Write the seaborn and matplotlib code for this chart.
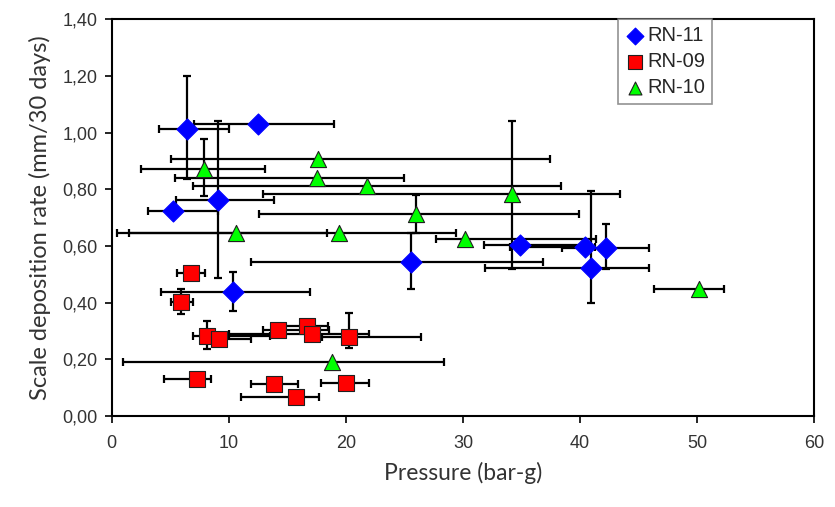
import numpy as np
import pandas as pd
import matplotlib
matplotlib.use("Agg")
import matplotlib.pyplot as plt
from matplotlib.ticker import FuncFormatter
import seaborn as sns

nan = np.nan

# ---- data ----
series_names = ["RN-11", "RN-09", "RN-10"]

rn11_x = [6.4, 12.5, 9.1, 5.2, 10.4, 25.6, 34.9, 40.4, 42.2, 40.9]
rn11_y = [1.013, 1.03, 0.762, 0.724, 0.437, 0.542, 0.602, 0.595, 0.592, 0.521]
rn11_xlo = [4.0, 7.0, 5.5, 3.1, 4.2, 11.9, 31.8, 34.0, 38.5, 31.9]
rn11_xhi = [10.0, 19.0, 13.9, 9.1, 16.9, 36.8, 40.4, 41.3, 45.9, 45.9]
rn11_ylo = [0.835, nan, 0.486, nan, 0.371, 0.447, nan, nan, 0.519, 0.40]
rn11_yhi = [1.20, nan, 1.04, nan, 0.507, 0.645, nan, nan, 0.677, 0.795]

rn09_x = [6.75, 5.9, 8.1, 9.2, 14.2, 16.7, 17.1, 20.3, 7.3, 13.9, 15.7, 20.05]
rn09_y = [0.504, 0.403, 0.283, 0.272, 0.303, 0.319, 0.288, 0.28, 0.13, 0.113, 0.068, 0.118]
rn09_xlo = [5.6, 5.1, 6.95, 8.5, 12.9, 14.0, 10.0, 18.0, 4.5, 11.9, 11.06, 17.9]
rn09_xhi = [7.94, 6.95, 13.5, 11.9, 18.6, 18.5, 22.0, 26.4, 8.45, 15.9, 17.7, 22.0]
rn09_ylo = [nan, 0.36, 0.235, nan, nan, nan, nan, 0.239, nan, nan, nan, nan]
rn09_yhi = [nan, 0.447, 0.335, nan, nan, nan, nan, 0.365, nan, nan, nan, nan]

rn10_x = [7.9, 17.6, 17.5, 21.8, 34.2, 26.0, 10.6, 19.4, 30.15, 50.2, 18.8]
rn10_y = [0.872, 0.906, 0.839, 0.81, 0.784, 0.713, 0.647, 0.645, 0.624, 0.447, 0.19]
rn10_xlo = [2.5, 5.1, 5.4, 6.95, 12.9, 12.6, 1.5, 0.43, 27.7, 46.3, 0.94]
rn10_xhi = [13.1, 37.4, 25.0, 38.4, 43.4, 39.9, 18.4, 29.4, 41.4, 52.3, 28.4]
rn10_ylo = [0.777, nan, nan, nan, 0.52, 0.645, nan, nan, nan, nan, nan]
rn10_yhi = [0.977, nan, nan, nan, 1.041, 0.78, nan, nan, nan, nan, nan]

x_ticks = [0, 10, 20, 30, 40, 50, 60]
y_ticks = [0.0, 0.2, 0.4, 0.6, 0.8, 1.0, 1.2, 1.4]

# ---- build table ----
frames = []
for name, xs, ys, xlo, xhi, ylo, yhi in [
    ("RN-11", rn11_x, rn11_y, rn11_xlo, rn11_xhi, rn11_ylo, rn11_yhi),
    ("RN-09", rn09_x, rn09_y, rn09_xlo, rn09_xhi, rn09_ylo, rn09_yhi),
    ("RN-10", rn10_x, rn10_y, rn10_xlo, rn10_xhi, rn10_ylo, rn10_yhi),
]:
    frames.append(pd.DataFrame({"series": name, "x": xs, "y": ys,
                                "xlo": xlo, "xhi": xhi, "ylo": ylo, "yhi": yhi}))
df = pd.concat(frames, ignore_index=True)

sns.set_theme(style="white")
plt.rcParams["font.family"] = ["Liberation Sans", "DejaVu Sans"]

fig = plt.figure(figsize=(8.35, 5.07), dpi=100)
ax = fig.add_axes([0.1338, 0.1795, 0.8412, 0.7825])

# error bars
for _, r in df.iterrows():
    ax.errorbar(r["x"], r["y"], xerr=[[r["x"] - r["xlo"]], [r["xhi"] - r["x"]]],
                fmt="none", ecolor="black", elinewidth=1.6, capsize=3, capthick=1.6, zorder=2)
    if not np.isnan(r["ylo"]):
        ax.errorbar(r["x"], r["y"], yerr=[[r["y"] - r["ylo"]], [r["yhi"] - r["y"]]],
                    fmt="none", ecolor="black", elinewidth=1.6, capsize=3, capthick=1.6, zorder=2)

palette = {"RN-11": "#0000ff", "RN-09": "#ff0000", "RN-10": "#00ff00"}
markers = {"RN-11": "D", "RN-09": "s", "RN-10": "^"}
sizes_map = {"RN-11": 115, "RN-09": 140, "RN-10": 135}
edge = {"RN-11": "#0000ff", "RN-09": "#202020", "RN-10": "#202020"}

for name in series_names:
    sub = df[df["series"] == name]
    sns.scatterplot(data=sub, x="x", y="y", marker=markers[name], color=palette[name],
                    s=sizes_map[name], edgecolor=edge[name], linewidth=0.8,
                    label=name, zorder=3, ax=ax)

ax.set_xlim(0, 60)
ax.set_ylim(0, 1.4)
ax.set_xticks(x_ticks)
ax.set_yticks(y_ticks)
ax.yaxis.set_major_formatter(FuncFormatter(lambda v, p: f"{v:.2f}".replace(".", ",")))
ax.xaxis.set_major_formatter(FuncFormatter(lambda v, p: f"{int(round(v))}"))
ax.tick_params(axis="both", which="major", direction="out", length=5, width=1.2,
               labelsize=13, colors="black", bottom=True, left=True)
ax.tick_params(axis="x", pad=9)
ax.tick_params(axis="y", pad=5)
for lab in ax.get_xticklabels() + ax.get_yticklabels():
    lab.set_color("#333333")

for s in ax.spines.values():
    s.set_visible(True)
    s.set_color("black")
    s.set_linewidth(1.5)

ax.set_xlabel("Pressure (bar-g)", fontsize=16.5, family=["Lato", "DejaVu Sans"], color="#333333", labelpad=7)
ax.set_ylabel("Scale deposition rate (mm/30 days)", fontsize=17, family=["Lato", "DejaVu Sans"],
              color="#333333", labelpad=8)

leg = ax.legend(loc="upper right", bbox_to_anchor=(0.855, 1.0), frameon=True, fancybox=False,
                fontsize=14.5, handletextpad=0.1, borderpad=0.35, labelspacing=0.35,
                handlelength=1.0, borderaxespad=0.0, markerscale=0.8)
leg.get_frame().set_edgecolor("#777777")
leg.get_frame().set_linewidth(1.2)

fig.savefig("out.png", dpi=100, facecolor="white")
